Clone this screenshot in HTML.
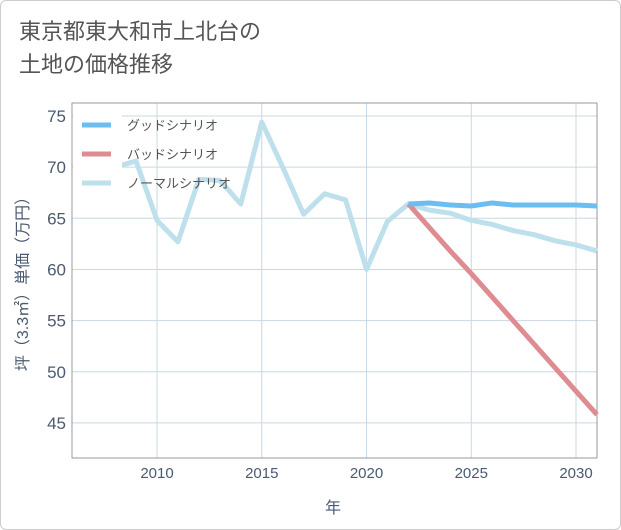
<!DOCTYPE html>
<html><head><meta charset="utf-8"><style>
body{margin:0;background:#fff;}
#wrap{width:619px;height:528px;border:1px solid #ccc;border-radius:6px;position:relative;background:#fff;overflow:hidden;font-family:"Liberation Sans","Noto Sans CJK JP",sans-serif;}
#title{position:absolute;left:18px;top:14px;font-size:22px;line-height:33px;color:#555;}
</style></head><body>
<div id="wrap">
<div id="title">東京都東大和市上北台の<br>土地の価格推移</div>
<svg id="chart" width="621" height="530" style="position:absolute;left:-1px;top:-1px"></svg>
</div>
<script>
const years=[2008,2009,2010,2011,2012,2013,2014,2015,2016,2017,2018,2019,2020,2021,2022,2023,2024,2025,2026,2027,2028,2029,2030,2031];
const normal=[70,70.6,64.8,62.7,68.8,68.7,66.4,74.4,70,65.4,67.4,66.8,60,64.7,66.4,65.8,65.5,64.8,64.4,63.8,63.4,62.8,62.4,61.8];
const goodYears=[2022,2023,2024,2025,2026,2027,2028,2029,2030,2031];
const good=[66.4,66.5,66.3,66.2,66.5,66.3,66.3,66.3,66.3,66.2];
const bad=[66.4,64.1,61.8,59.6,57.3,55,52.7,50.4,48.1,45.8];
const xTicks=[2010,2015,2020,2025,2030];
const yTicks=[45,50,55,60,65,70,75];
const X0=72,X1=597,Y0=103,Y1=458;
const xs=y=>157+(y-2010)*20.95;
const ys=v=>116+(75-v)*10.23;
const svg=document.getElementById('chart');
const NS='http://www.w3.org/2000/svg';
function mk(t,a){const e=document.createElementNS(NS,t);for(const k in a)e.setAttribute(k,a[k]);svg.appendChild(e);return e;}
let e;
for(const t of xTicks){
 e=mk('line',{x1:xs(t),x2:xs(t),y1:Y0,y2:Y1,stroke:'#c9d8e2','stroke-width':1});
 
 
 e=mk('text',{x:xs(t),y:478,'text-anchor':'middle','font-size':15,fill:'#4a5a70'});e.textContent=t;
 
 
}
for(const t of yTicks){
 e=mk('line',{x1:X0,x2:X1,y1:ys(t),y2:ys(t),stroke:'#c9d8e2','stroke-width':1});
 
 
 e=mk('text',{x:66,y:ys(t)+6,'text-anchor':'end','font-size':17,fill:'#4a5a70'});e.textContent=t;
 
 
}
e=mk('rect',{x:X0,y:Y0,width:X1-X0,height:Y1-Y0,fill:'none',stroke:'#999','stroke-width':1});


function line(xv,yv,col,name){
 const p=xv.map((x,i)=>(i?'L':'M')+xs(x)+','+ys(yv[i])).join('');
 const el=mk('path',{d:p,fill:'none',stroke:col,'stroke-width':5,'stroke-linejoin':'round'});
 
 
}
const cp=mk('clipPath',{id:'cp'});svg.removeChild(cp);
line(years,normal,'#bde0ec','normal-scenario-line');
line(goodYears,bad,'#de8c92','bad-scenario-line');
line(goodYears,good,'#6cbdf2','good-scenario-line');
e=mk('rect',{x:X0+1,y:Y0+1,width:49,height:96,fill:'#fff'});


const leg=[['グッドシナリオ','#6cbdf2'],['バッドシナリオ','#de8c92'],['ノーマルシナリオ','#bde0ec']];
leg.forEach((l,i)=>{
 const y=125+i*29;
 e=mk('line',{x1:82,x2:111,y1:y,y2:y,stroke:l[1],'stroke-width':5});
 
 
 e=mk('text',{x:127,y:y+5,'font-size':13,fill:'#555'});e.textContent=l[0];
 
 
});
e=mk('text',{x:333,y:513,'text-anchor':'middle','font-size':16,fill:'#4a5a70'});e.textContent='年';


e=mk('text',{x:0,y:0,'text-anchor':'middle','font-size':16,fill:'#4a5a70',transform:'translate(28,280) rotate(-90)'});e.textContent='坪（3.3㎡）単価（万円）';


</script>
</body></html>
